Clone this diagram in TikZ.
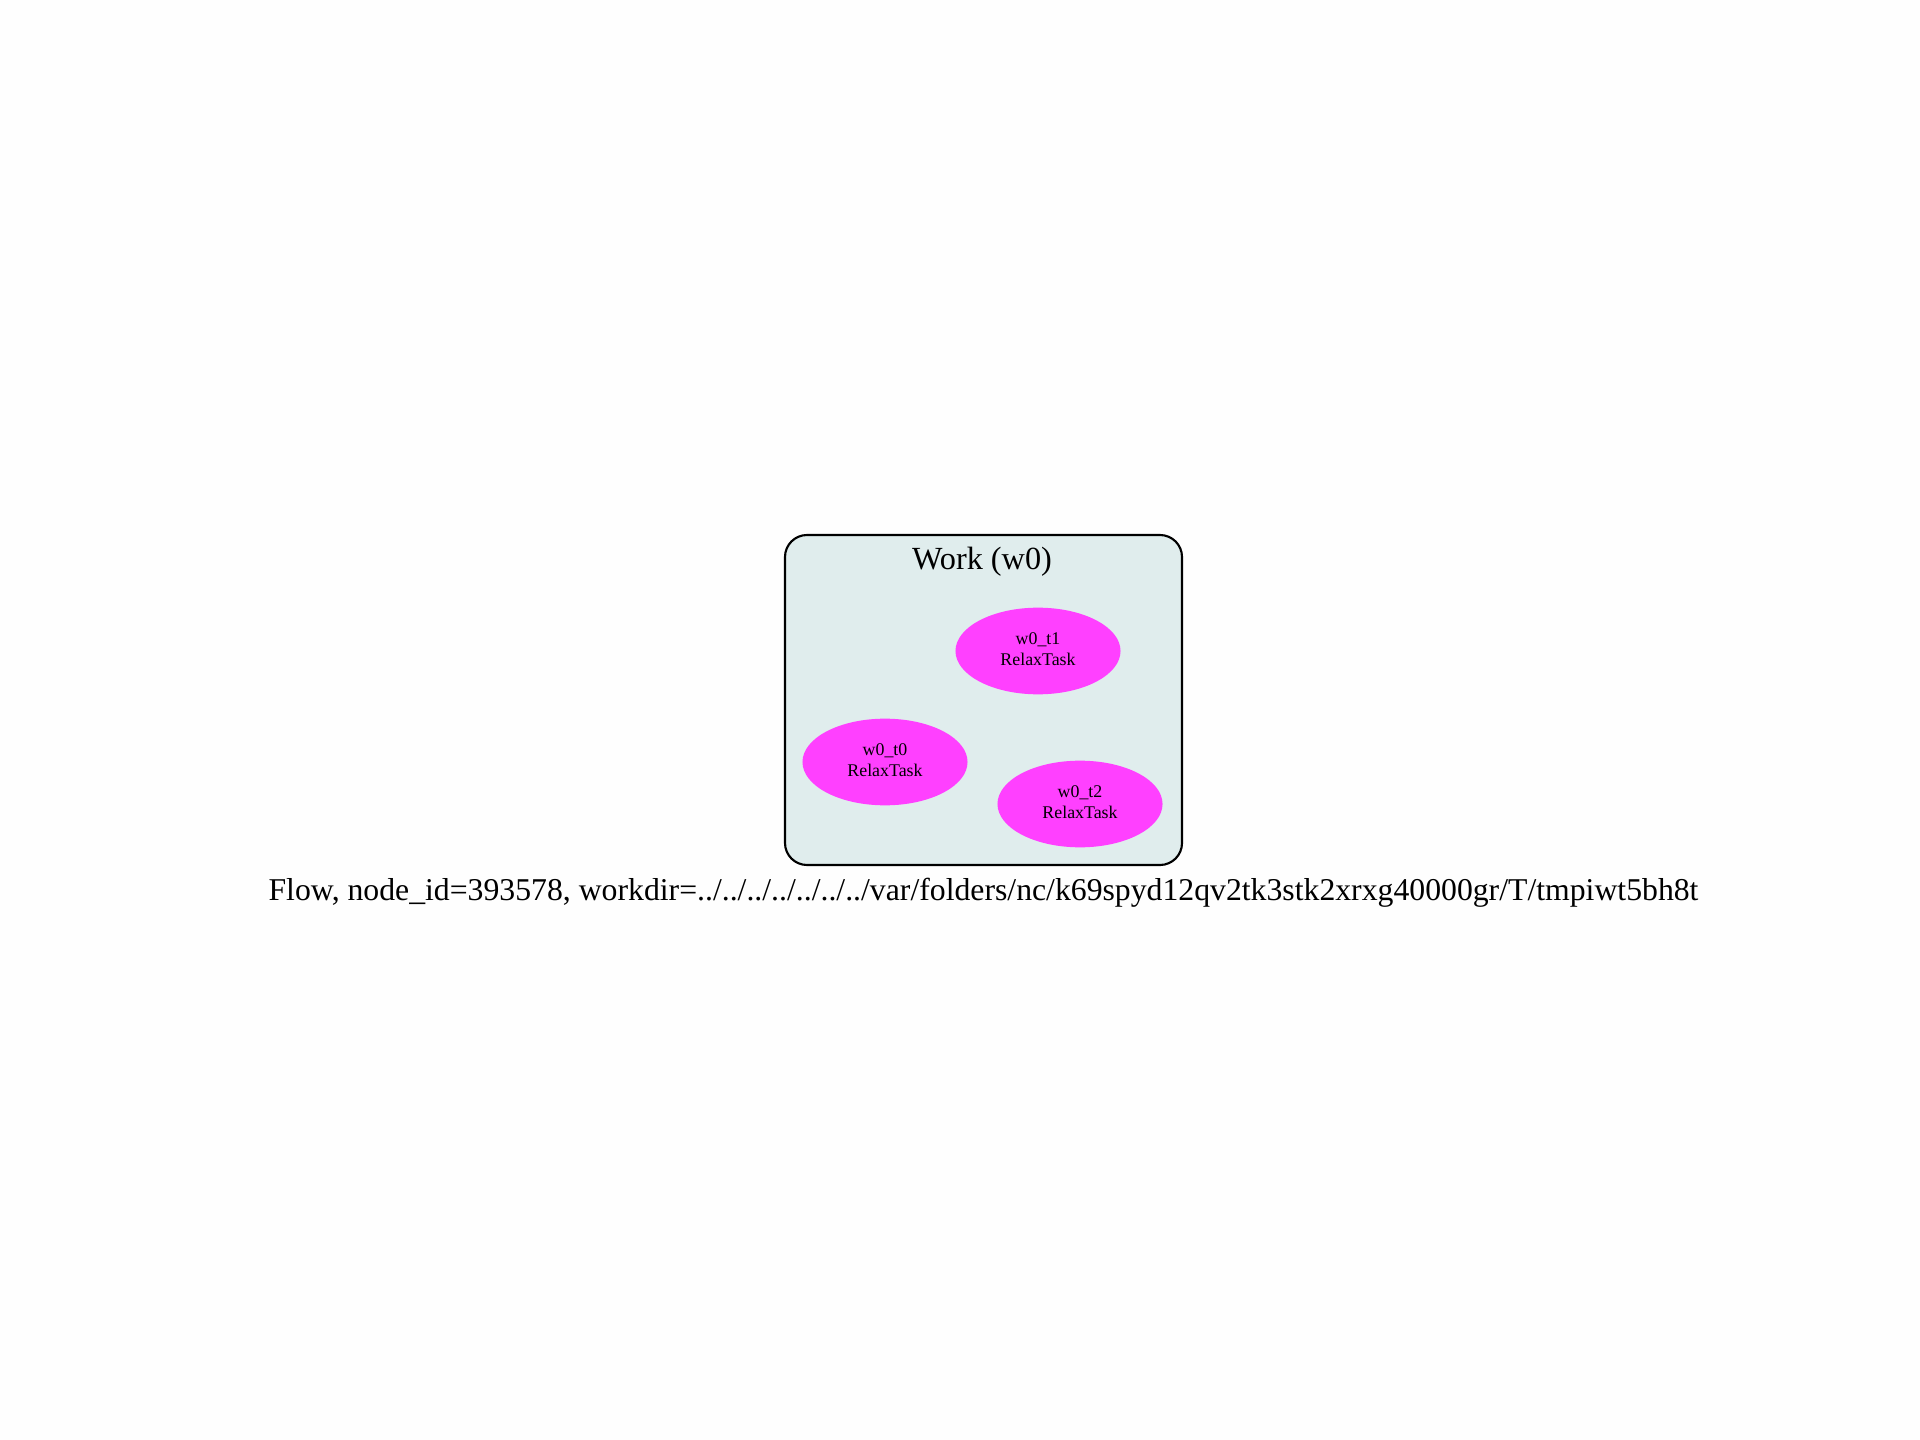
\documentclass[tikz,border=0pt]{standalone}
\usepackage{fontspec}
\setmainfont{Liberation Serif}
\usetikzlibrary{shapes.geometric}
\definecolor{bgc}{HTML}{FEFEFE}
\definecolor{boxfill}{HTML}{E0EDED}
\definecolor{taskfill}{HTML}{FF40FF}
\tikzset{
  task/.style={ellipse, fill=taskfill, draw=none, minimum width=61.9pt, minimum height=32.5pt, inner sep=0pt, align=center, font=\fontsize{6.7}{7.8}\selectfont},
  tasktext/.style={inner sep=0pt, align=center, font=\fontsize{6.7}{7.8}\selectfont},
  cluster/.style={draw=black, line width=0.8pt, fill=boxfill, rounded corners=8.25pt},
}
\begin{document}
\begin{tikzpicture}[x=0.375pt, y=-0.375pt]
\fill[bgc] (0,0) rectangle (1920,1440);
\useasboundingbox (0,0) rectangle (1920,1440);
\draw[cluster] (785,535) rectangle (1182,865);
\node[anchor=base, inner sep=0pt, font=\fontsize{12.1}{14}\selectfont] (title) at (982,570) {Work (w0)};
\node[task] (t1) at (1038,651) {};
\node[tasktext] (l1) at (1038,649.5) {w0\_t1\\RelaxTask};
\node[task] (t0) at (885,762) {};
\node[tasktext] (l0) at (885,760.5) {w0\_t0\\RelaxTask};
\node[task] (t2) at (1080,804) {};
\node[tasktext] (l2) at (1080,802.5) {w0\_t2\\RelaxTask};
\node[anchor=base, inner sep=0pt, font=\fontsize{11.9}{14}\selectfont] (caption) at (983.5,900) {Flow, node\_id=393578, workdir=../../../../../../../var/folders/nc/k69spyd12qv2tk3stk2xrxg40000gr/T/tmpiwt5bh8t};
\end{tikzpicture}
\end{document}
